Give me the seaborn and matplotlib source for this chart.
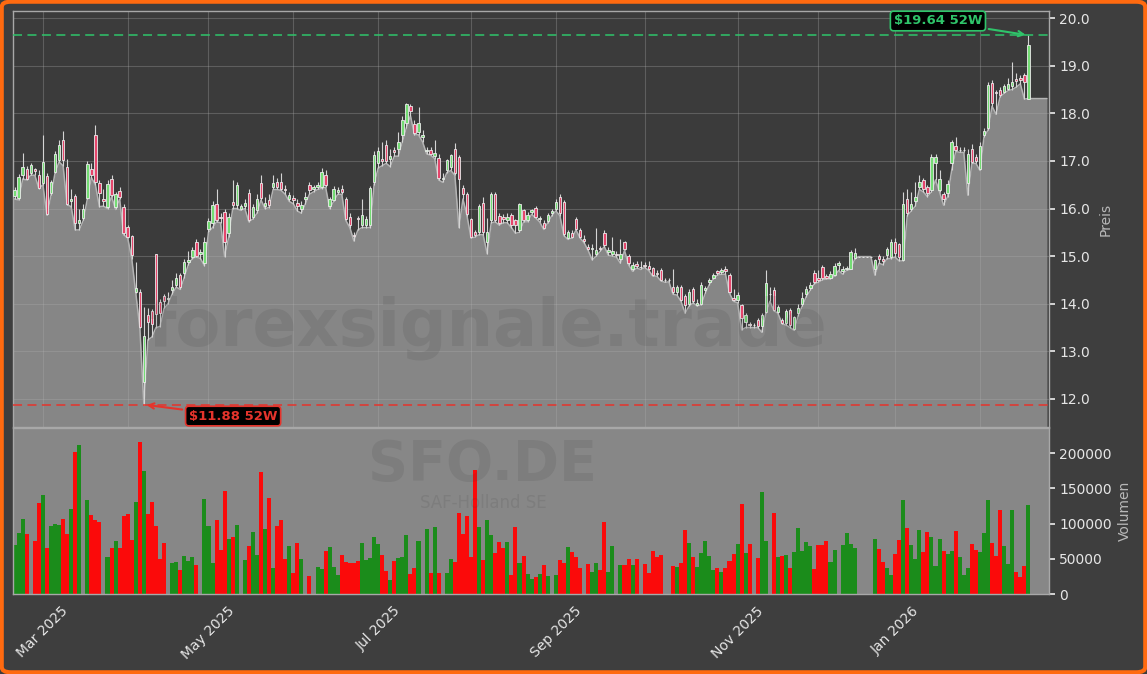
import matplotlib
matplotlib.use('Agg')
import matplotlib.pyplot as plt
from matplotlib.patches import FancyBboxPatch
from matplotlib.ticker import MultipleLocator, FormatStrFormatter
import seaborn as sns
import pandas as pd
import numpy as np

# Handelstage SFO.DE (Xetra, ohne Boersenfeiertage)
feiertage = ['2025-04-18', '2025-04-21', '2025-05-01', '2025-12-24',
             '2025-12-25', '2025-12-26', '2025-12-31', '2026-01-01']
datum = pd.bdate_range('2025-02-20', '2026-02-18').difference(pd.to_datetime(feiertage))

eroeffnung = [
    16.27, 16.22, 16.70, 16.84, 16.74, 16.82, 16.70, 16.53, 16.68, 16.33,
    16.77, 17.02, 17.45, 16.88, 16.15, 16.26, 15.70, 15.80, 16.23, 16.84,
    17.54, 16.53, 16.20, 16.03, 16.61, 16.03, 16.37, 16.04, 15.62, 15.43,
    14.25, 14.25, 12.36, 13.76, 13.84, 15.04, 14.03, 14.17, 14.10, 14.28,
    14.40, 14.60, 14.64, 14.88, 14.99, 15.30, 15.05, 14.85, 15.56, 15.69,
    16.10, 15.83, 15.93, 15.48, 16.14, 16.07, 16.00, 16.05, 16.32, 15.83,
    15.96, 16.53, 16.05, 16.17, 16.45, 16.55, 16.56, 16.42, 16.20, 16.22,
    16.12, 16.00, 16.20, 16.49, 16.40, 16.45, 16.46, 16.70, 16.06, 16.18,
    16.34, 16.42, 16.20, 15.83, 15.45, 15.80, 15.65, 15.65, 15.65, 16.56,
    16.95, 17.05, 17.33, 17.05, 17.22, 17.25, 17.55, 17.80, 18.15, 17.78,
    17.61, 17.50, 17.20, 17.22, 17.10, 17.07, 16.62, 16.81, 16.88, 17.26,
    17.09, 16.44, 16.30, 15.77, 15.50, 15.51, 16.11, 15.30, 15.76, 16.30,
    15.84, 15.82, 15.75, 15.86, 15.75, 15.55, 15.97, 15.76, 15.92, 16.02,
    15.78, 15.70, 15.74, 15.90, 16.00, 16.25, 16.13, 15.39, 15.49, 15.77,
    15.55, 15.35, 15.20, 15.14, 15.05, 15.18, 15.49, 15.08, 15.05, 15.05,
    14.95, 15.29, 15.00, 14.72, 14.83, 14.78, 14.82, 14.80, 14.75, 14.65,
    14.71, 14.50, 14.50, 14.36, 14.24, 14.36, 14.16, 13.99, 14.30, 13.98,
    14.00, 14.28, 14.45, 14.55, 14.68, 14.66, 14.74, 14.60, 14.12, 14.08,
    13.98, 13.62, 13.58, 13.56, 13.66, 13.53, 13.83, 14.20, 14.29, 13.83,
    13.66, 13.60, 13.87, 13.46, 13.80, 14.00, 14.20, 14.32, 14.64, 14.55,
    14.78, 14.58, 14.55, 14.60, 14.82, 14.68, 14.72, 14.74, 14.96, 14.99,
    14.99, 14.99, 14.99, 14.74, 15.00, 14.95, 15.02, 14.99, 15.30, 15.25,
    14.92, 16.21, 16.00, 16.15, 16.46, 16.60, 16.46, 16.39, 16.96, 16.39,
    16.30, 16.33, 16.95, 17.31, 17.22, 17.22, 16.53, 17.26, 17.09, 16.84,
    17.54, 17.70, 18.63, 18.45, 18.49, 18.45, 18.52, 18.58, 18.72, 18.75,
    18.80, 18.31]

hoch = [
    16.45, 16.72, 17.16, 16.90, 16.95, 16.86, 16.80, 17.54, 16.75, 16.60,
    17.20, 17.45, 17.63, 17.05, 16.42, 16.30, 16.00, 16.10, 17.00, 16.95,
    17.75, 16.60, 16.40, 16.60, 16.70, 16.35, 16.45, 16.10, 15.65, 15.45,
    14.88, 14.30, 13.94, 13.90, 13.88, 15.05, 14.10, 14.20, 14.25, 14.50,
    14.65, 14.65, 14.95, 15.10, 15.20, 15.35, 15.15, 15.40, 15.80, 16.15,
    16.42, 15.90, 15.98, 15.90, 16.60, 16.55, 16.10, 16.20, 16.40, 16.10,
    16.30, 16.70, 16.25, 16.30, 16.70, 16.65, 16.75, 16.50, 16.35, 16.28,
    16.20, 16.15, 16.35, 16.55, 16.50, 16.55, 16.85, 16.80, 16.25, 16.48,
    16.45, 16.50, 16.25, 15.90, 15.50, 15.85, 16.20, 15.85, 16.48, 17.20,
    17.30, 17.40, 17.45, 17.25, 17.30, 17.60, 17.95, 18.22, 18.20, 17.85,
    18.14, 17.65, 17.30, 17.30, 17.44, 17.15, 16.75, 17.05, 17.15, 17.38,
    17.12, 16.50, 16.35, 15.80, 15.55, 16.10, 16.25, 15.80, 16.35, 16.35,
    15.90, 15.88, 15.90, 15.90, 15.78, 16.12, 16.00, 15.92, 16.00, 16.05,
    15.85, 15.75, 15.90, 16.00, 16.20, 16.30, 16.18, 15.55, 15.55, 15.82,
    15.60, 15.45, 15.25, 15.25, 15.60, 15.22, 15.55, 15.20, 15.40, 15.10,
    15.35, 15.32, 15.05, 14.88, 14.90, 14.90, 14.88, 14.90, 14.78, 14.70,
    14.75, 14.55, 14.55, 14.74, 14.40, 14.40, 14.20, 14.30, 14.35, 14.10,
    14.45, 14.38, 14.55, 14.65, 14.70, 14.75, 14.80, 14.65, 14.30, 14.25,
    14.00, 13.80, 13.62, 13.60, 13.70, 13.80, 14.71, 14.35, 14.35, 13.98,
    13.70, 13.88, 13.90, 13.75, 14.00, 14.25, 14.38, 14.45, 14.70, 14.70,
    14.82, 14.62, 14.68, 14.85, 14.90, 14.80, 14.80, 15.12, 15.18, 14.99,
    14.99, 14.99, 14.99, 14.95, 15.05, 15.00, 15.20, 15.35, 15.38, 15.28,
    16.35, 16.40, 16.35, 16.55, 16.70, 16.65, 16.50, 17.15, 17.15, 16.80,
    16.35, 16.60, 17.45, 17.50, 17.30, 17.30, 17.25, 17.35, 17.15, 17.40,
    17.70, 18.65, 18.70, 18.50, 18.55, 18.62, 18.75, 19.08, 18.85, 18.80,
    18.85, 19.64]

tief = [
    16.20, 16.18, 16.62, 16.60, 16.70, 16.70, 16.42, 16.50, 15.86, 16.28,
    16.74, 16.98, 16.90, 16.08, 16.04, 15.55, 15.55, 15.75, 16.20, 16.65,
    16.50, 16.04, 16.05, 16.00, 16.25, 15.98, 16.20, 15.45, 15.38, 14.95,
    14.22, 13.50, 11.88, 13.24, 13.30, 13.50, 13.52, 13.90, 14.00, 14.20,
    14.35, 14.30, 14.55, 14.82, 14.95, 14.98, 14.95, 14.80, 15.50, 15.60,
    15.72, 15.70, 14.99, 15.40, 16.00, 16.00, 15.96, 16.00, 15.72, 15.78,
    15.90, 16.18, 16.00, 16.02, 16.40, 16.40, 16.38, 16.30, 16.15, 16.10,
    15.95, 15.90, 16.10, 16.30, 16.35, 16.40, 16.42, 16.45, 16.00, 16.15,
    16.30, 16.30, 15.75, 15.60, 15.32, 15.55, 15.60, 15.60, 15.60, 16.50,
    16.85, 16.90, 16.95, 16.88, 17.10, 17.10, 17.40, 17.70, 17.95, 17.55,
    17.55, 17.40, 17.15, 17.12, 17.05, 16.60, 16.55, 16.75, 16.80, 16.70,
    15.60, 16.20, 15.85, 15.38, 15.40, 15.45, 15.45, 15.05, 15.70, 15.72,
    15.65, 15.70, 15.70, 15.60, 15.48, 15.50, 15.72, 15.72, 15.88, 15.80,
    15.72, 15.56, 15.70, 15.85, 15.95, 15.85, 15.43, 15.35, 15.38, 15.55,
    15.38, 15.28, 15.12, 14.92, 15.00, 15.10, 15.20, 15.02, 15.00, 14.98,
    14.85, 15.12, 14.82, 14.68, 14.75, 14.72, 14.76, 14.70, 14.58, 14.58,
    14.48, 14.45, 14.46, 14.20, 14.18, 14.05, 13.80, 13.95, 14.02, 13.95,
    13.98, 14.22, 14.40, 14.52, 14.60, 14.62, 14.62, 14.22, 14.05, 14.02,
    13.45, 13.50, 13.50, 13.50, 13.50, 13.40, 13.80, 14.05, 13.85, 13.80,
    13.58, 13.55, 13.50, 13.44, 13.75, 13.95, 14.15, 14.28, 14.42, 14.45,
    14.50, 14.52, 14.52, 14.58, 14.70, 14.62, 14.70, 14.72, 14.94, 14.99,
    14.99, 14.99, 14.99, 14.60, 14.85, 14.82, 14.95, 14.95, 14.98, 14.90,
    14.90, 15.85, 15.95, 16.05, 16.40, 16.35, 16.25, 16.35, 16.60, 16.35,
    16.07, 16.25, 16.80, 17.20, 17.18, 17.18, 16.28, 16.95, 16.95, 16.80,
    17.50, 17.65, 18.15, 17.98, 18.35, 18.42, 18.48, 18.50, 18.55, 18.62,
    18.30, 18.31]

schluss = [
    16.38, 16.67, 16.88, 16.63, 16.91, 16.78, 16.44, 16.97, 15.88, 16.55,
    17.14, 17.33, 17.02, 16.10, 16.20, 15.69, 15.75, 16.00, 16.93, 16.70,
    16.56, 16.32, 16.15, 16.51, 16.28, 16.30, 16.25, 15.48, 15.40, 15.02,
    14.33, 13.52, 13.33, 13.62, 13.58, 13.78, 13.80, 14.06, 14.12, 14.35,
    14.55, 14.35, 14.88, 14.92, 15.13, 15.00, 15.08, 15.30, 15.73, 16.07,
    15.76, 15.80, 15.30, 15.83, 16.07, 16.49, 16.05, 16.12, 15.76, 16.04,
    16.21, 16.23, 16.12, 16.07, 16.53, 16.45, 16.42, 16.38, 16.28, 16.18,
    16.05, 16.07, 16.25, 16.39, 16.45, 16.50, 16.77, 16.49, 16.19, 16.42,
    16.38, 16.34, 15.79, 15.65, 15.42, 15.77, 15.86, 15.77, 16.44, 17.12,
    17.21, 17.00, 17.00, 17.10, 17.18, 17.40, 17.85, 18.20, 18.05, 17.58,
    17.79, 17.55, 17.24, 17.15, 17.16, 16.65, 16.65, 17.02, 17.12, 16.74,
    16.63, 16.30, 15.88, 15.41, 15.45, 16.05, 15.51, 15.50, 16.30, 15.76,
    15.70, 15.78, 15.82, 15.65, 15.65, 16.10, 15.76, 15.86, 15.97, 15.83,
    15.80, 15.60, 15.86, 15.95, 16.14, 15.90, 15.47, 15.51, 15.41, 15.58,
    15.41, 15.32, 15.16, 15.18, 15.12, 15.14, 15.23, 15.12, 15.10, 15.02,
    15.05, 15.16, 14.85, 14.81, 14.79, 14.78, 14.79, 14.74, 14.60, 14.62,
    14.50, 14.50, 14.50, 14.24, 14.36, 14.08, 13.97, 14.25, 14.06, 14.02,
    14.40, 14.32, 14.50, 14.60, 14.64, 14.70, 14.68, 14.25, 14.08, 14.18,
    13.70, 13.76, 13.55, 13.55, 13.53, 13.76, 14.43, 14.20, 13.87, 13.94,
    13.60, 13.85, 13.55, 13.73, 13.92, 14.12, 14.30, 14.40, 14.46, 14.50,
    14.53, 14.55, 14.62, 14.79, 14.85, 14.72, 14.75, 15.08, 15.07, 14.99,
    14.99, 14.99, 14.99, 14.92, 14.95, 14.90, 15.16, 15.30, 15.06, 14.99,
    16.10, 15.90, 16.10, 16.25, 16.56, 16.40, 16.32, 17.09, 17.09, 16.63,
    16.20, 16.51, 17.40, 17.24, 17.24, 17.24, 17.14, 16.98, 17.00, 17.31,
    17.63, 18.59, 18.21, 18.43, 18.38, 18.57, 18.61, 18.66, 18.68, 18.70,
    18.66, 19.43]

# Volumen in Tausend Stueck
volumen_k = [
    69, 87, 107, 85, 0, 75, 129, 140, 65, 96,
    99, 98, 106, 85, 120, 202, 211, 0, 133, 112,
    105, 102, 0, 52, 65, 75, 65, 111, 113, 77,
    130, 215, 174, 113, 130, 96, 50, 72, 0, 44,
    45, 34, 54, 47, 52, 41, 0, 135, 97, 44,
    105, 62, 146, 78, 81, 98, 0, 48, 68, 88,
    55, 173, 92, 136, 37, 96, 105, 50, 68, 30,
    72, 50, 0, 25, 0, 38, 35, 61, 67, 38,
    27, 55, 45, 44, 44, 47, 72, 48, 51, 81,
    71, 55, 33, 20, 47, 51, 52, 84, 28, 37,
    75, 0, 92, 30, 95, 30, 0, 30, 50, 45,
    115, 85, 111, 52, 176, 95, 48, 105, 84, 58,
    74, 65, 74, 27, 95, 44, 54, 28, 21, 24,
    28, 41, 26, 0, 27, 48, 44, 67, 60, 52,
    37, 0, 43, 31, 44, 34, 102, 31, 68, 0,
    41, 41, 50, 41, 50, 0, 43, 30, 61, 52,
    55, 0, 0, 40, 38, 44, 91, 72, 52, 39,
    58, 75, 54, 34, 37, 31, 37, 47, 57, 71,
    128, 58, 71, 0, 51, 145, 75, 0, 115, 52,
    54, 55, 37, 60, 94, 61, 74, 68, 35, 70,
    70, 75, 45, 62, 0, 70, 87, 71, 65, 0,
    0, 0, 0, 78, 64, 45, 37, 27, 57, 77,
    133, 94, 70, 50, 91, 60, 88, 81, 40, 78,
    61, 57, 61, 89, 52, 27, 37, 71, 62, 60,
    87, 133, 72, 54, 119, 68, 43, 119, 31, 24,
    40, 126]

df = pd.DataFrame({'datum': datum, 'open': eroeffnung, 'high': hoch,
                   'low': tief, 'close': schluss})
df['volume'] = np.array(volumen_k) * 1000
df['pos'] = np.arange(len(df))
df['richtung'] = np.where(df['close'] >= df['open'], 'up', 'down')

BG = '#3e3e3e'
AX_BG = '#3b3b3b'
FILL = '#868686'
TXT = '#e6e6e6'

sns.set_theme(style='dark', rc={'axes.facecolor': AX_BG, 'figure.facecolor': BG,
                                'axes.edgecolor': '#a0a0a0', 'text.color': TXT,
                                'xtick.color': TXT, 'ytick.color': TXT})
plt.rcParams['font.family'] = ['DejaVu Sans']

fig = plt.figure(figsize=(11.47, 6.74), dpi=100)
W, H = 1147, 674
ax = fig.add_axes([13 / W, 1 - 427 / H, 1036 / W, 416 / H])
axv = fig.add_axes([13 / W, 1 - 594 / H, 1036 / W, 166 / H], sharex=ax)

x_links, x_rechts = -0.4, len(df) - 1 + 5.1
y_unten, y_oben = 11.41, 20.15

# graue Flaeche unter den Tiefstkursen
fx = np.concatenate([[x_links], df['pos'], [len(df) - 1 + 4.6]])
fy = np.concatenate([[df['low'].iloc[0]], df['low'], [df['low'].iloc[-1]]])
ax.fill_between(fx, fy, y_unten, color=FILL, zorder=1, lw=0)
sns.lineplot(x=fx, y=fy, ax=ax, color='#b4b4b4', lw=1.1, zorder=1.2)

# Kerzen
farbe = df['richtung'].map({'up': '#74dc74', 'down': '#e5466c'})
ax.vlines(df['pos'], df['low'], df['high'], color='#d4d4d4', lw=0.8, zorder=2)
unten = df[['open', 'close']].min(axis=1)
hoehe = (df['close'] - df['open']).abs()
ax.bar(df['pos'], hoehe, bottom=unten, width=0.6, color=farbe,
       edgecolor='#ececec', lw=0.6, zorder=3)

# 52-Wochen Hoch / Tief
i_hi = df['high'].idxmax()
i_lo = df['low'].idxmin()
hi = df['high'].max()
lo = df['low'].min()
gruen, rot = '#2fc46a', '#e5342c'
ax.axhline(hi, color=gruen, ls=(0, (5, 3)), lw=1.3, alpha=0.85, zorder=4)
ax.axhline(lo, color=rot, ls=(0, (5, 3)), lw=1.3, alpha=0.85, zorder=4)
ax.annotate(f'\\${hi:.2f} 52W', xy=(i_hi, hi), xytext=(i_hi - 22.4, hi + 0.30),
            ha='center', va='center', color=gruen, fontsize=9.5, fontweight='bold',
            bbox=dict(boxstyle='round,pad=0.25', fc='black', ec=gruen, lw=1.2),
            arrowprops=dict(arrowstyle='->', color=gruen, lw=1.5), zorder=6)
ax.annotate(f'\\${lo:.2f} 52W', xy=(i_lo, lo), xytext=(i_lo + 22.1, lo - 0.24),
            ha='center', va='center', color=rot, fontsize=9.5, fontweight='bold',
            bbox=dict(boxstyle='round,pad=0.25', fc='black', ec=rot, lw=1.2),
            arrowprops=dict(arrowstyle='->', color=rot, lw=1.5), zorder=6)

# Volumen
axv.set_facecolor('#878787')
sns.barplot(data=df, x='pos', y='volume', hue='richtung', ax=axv,
            palette={'up': '#1b8c1b', 'down': '#fb0a0a'}, native_scale=True,
            width=1.0, dodge=False, legend=False, errorbar=None, saturation=1,
            linewidth=0)

# Achsen
ax.set_xlim(x_links, x_rechts)
ax.set_ylim(y_unten, y_oben)
axv.set_ylim(0, 235500)

monat = df['datum'].dt.to_period('M')
starts = df.groupby(monat)['pos'].min()
starts = starts[starts.index >= pd.Period('2025-03', 'M')]
labels = [p.strftime('%b %Y') if p.month % 2 == 1 else '' for p in starts.index]
axv.set_xticks(starts.values)
axv.set_xticklabels(labels, rotation=45, ha='center')
axv.set_xlabel('')
ax.tick_params(axis='x', length=0, labelbottom=False)
axv.tick_params(axis='x', length=4, color=TXT, labelsize=10, pad=3)

ax.grid(True, color='#b0b0b0', alpha=0.3, lw=0.8)
ax.set_axisbelow('line')
axv.grid(False)

ax.yaxis.tick_right()
ax.yaxis.set_label_position('right')
ax.yaxis.set_major_locator(MultipleLocator(1.0))
ax.yaxis.set_major_formatter(FormatStrFormatter('%.1f'))
ax.set_ylabel('Preis', color='#b8b8b8', fontsize=10, labelpad=6)
ax.tick_params(axis='y', length=4, color=TXT, labelsize=10, left=False, right=True)

axv.yaxis.tick_right()
axv.yaxis.set_label_position('right')
axv.yaxis.set_major_locator(MultipleLocator(50000))
axv.yaxis.set_major_formatter(FormatStrFormatter('%d'))
axv.set_ylabel('Volumen', color='#b8b8b8', fontsize=10)
axv.tick_params(axis='y', length=4, color=TXT, labelsize=10, left=False, right=True)

for a in (ax, axv):
    for s in a.spines.values():
        s.set_color('#a8a8a8')
        s.set_linewidth(1.0)

# Wasserzeichen
wz = dict(ha='center', color='#3a3a3a', alpha=0.13, fontweight='bold')
fig.text(0.425, 0.513, 'forexsignale.trade', fontsize=47, va='center', **wz)
fig.text(0.421, 1 - 480 / H, 'SFO.DE', fontsize=40, va='baseline', **wz)
fig.text(0.421, 1 - 494 / H, 'SAF-Holland SE', fontsize=12, ha='center', va='top',
         color='#3a3a3a', alpha=0.13)

# oranger Rahmen
fig.patches.append(FancyBboxPatch((0.0015, 0.0025), 0.997, 0.995,
                                  boxstyle='round,pad=0,rounding_size=0.008',
                                  transform=fig.transFigure, fill=False,
                                  ec='#ff6a10', lw=3.0))

fig.savefig('out.png', dpi=100, facecolor=BG)
